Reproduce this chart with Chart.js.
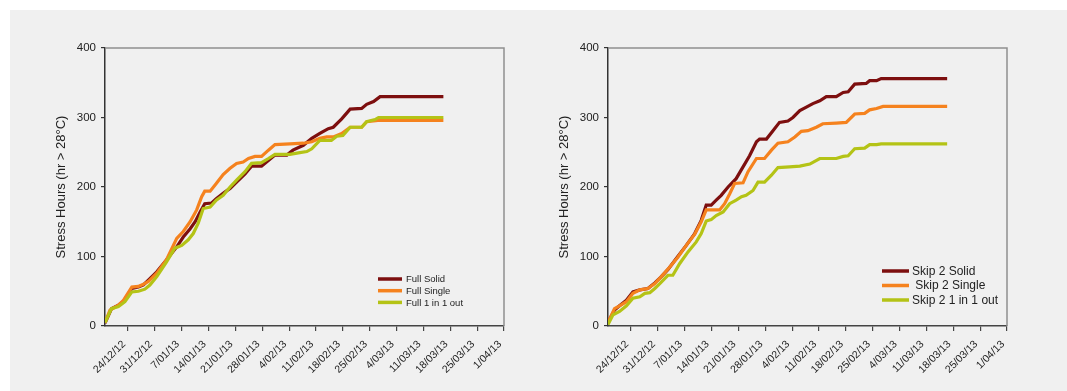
<!DOCTYPE html>
<html>
<head>
<meta charset="utf-8">
<script src="https://cdn.jsdelivr.net/npm/chart.js@4.4.1/dist/chart.umd.min.js"></script>
<style>
  body { margin: 0; background: #ffffff; }
  #panel { position: absolute; left: 10px; top: 10px; width: 1057px; height: 381px; background: #f0f0f0; }
  canvas { position: absolute; top: 10px; }
  #leftChart { left: 10px; }
  #rightChart { left: 513px; }
</style>
</head>
<body>
<div id="panel"></div>
<canvas id="leftChart" width="520" height="381"></canvas>
<canvas id="rightChart" width="520" height="381"></canvas>
<script>
// x values are days after 18/12/12
var tickDays = [6, 13, 20, 27, 34, 41, 48, 55, 62, 69, 76, 83, 90, 97, 104];
var tickLabels = ["24/12/12", "31/12/12", "7/01/13", "14/01/13", "21/01/13", "28/01/13", "4/02/13",
    "11/02/13", "18/02/13", "25/02/13", "4/03/13", "11/03/13", "18/03/13", "25/03/13", "1/04/13"];

var fullSolidDays = [0, 1.7, 3.5, 4.8, 7, 8.7, 10, 11.3, 13.5, 16, 18.7, 20.4, 22.2, 23.5, 24.8, 26, 27.8, 29, 30.8, 32.6,
    34.3, 36.5, 38.2, 40.8, 42.1, 44.3, 47.4, 49, 51.7, 53.9, 56, 58.2, 59.5, 61.7, 63.9, 66.9, 68.2, 70, 71.7, 88.2];
var fullSolid = [4, 25, 30, 35, 54, 56, 59, 66, 78, 95, 114, 128, 140, 150, 164, 176, 177, 183, 191, 198,
    207, 219, 230, 230, 236, 246, 246, 253, 260, 270, 277, 284, 286, 298, 312, 313, 319, 323, 330, 330];

var fullSingleDays = [0, 1.3, 3.5, 4.8, 7, 8.7, 10, 11.3, 13.5, 16, 18.7, 20.4, 22.2, 23.9, 25.2, 26, 27.4, 29, 30.8, 32.6,
    34.3, 36, 37.4, 39.1, 40.8, 42.6, 44.3, 48.2, 51.7, 53.9, 56, 57.8, 59.5, 61.7, 63.9, 66.9, 68.2, 70, 71.7, 88.2];
var fullSingle = [5, 23, 30, 37, 56, 57, 60, 64, 76, 95, 126, 136, 150, 167, 186, 194, 194, 205, 218, 227,
    234, 236, 241, 244, 244, 253, 261, 262, 263, 265, 270, 272, 272, 277, 286, 286, 294, 295, 296, 296];

var fullAltDays = [0, 1.7, 3.5, 5.2, 7, 8.7, 10.4, 11.7, 13.5, 16, 18.2, 20, 21.7, 23, 24.3, 25.6, 27.4, 29, 30.8, 32.6,
    34.3, 36.5, 38.2, 40.8, 42.6, 44.3, 48.2, 50.4, 52.6, 53.9, 56, 59, 60.4, 62, 63.9, 66.9, 68.2, 70.4, 71.3, 88.2];
var fullAlt = [5, 25, 28, 35, 49, 50, 53, 59, 71, 92, 112, 116, 124, 133, 148, 169, 171, 181, 188, 200,
    210, 222, 234, 235, 241, 247, 247, 249, 251, 255, 267, 267, 273, 274, 286, 286, 294, 297, 300, 300];

var skipSolidDays = [0, 1.7, 3, 4.8, 6.5, 8.3, 10.4, 12.2, 13.9, 15.6, 17.8, 20.4, 22.6, 24.3, 25.6, 26.9, 28.2, 29.5, 31.3, 33.4,
    35.2, 36.9, 38.7, 39.5, 41.3, 43, 44.7, 46.9, 48.2, 50, 51.7, 53.4, 55.2, 56.9, 59.5, 61.3, 62.6, 64.3, 67.3, 68.2, 70, 71.2, 88.4];
var skipSolid = [5, 23, 29, 37, 49, 52, 54, 62, 71, 81, 97, 116, 133, 152, 174, 174, 181, 188, 200, 212,
    229, 245, 265, 269, 269, 281, 293, 295, 300, 310, 315, 320, 324, 330, 330, 336, 337, 348, 349, 353, 353, 356, 356];

var skipSingleDays = [0, 1.7, 3, 4.8, 6.5, 8.3, 10.4, 12.2, 13.9, 16.1, 18.2, 20.4, 22.6, 24.3, 25.6, 27.4, 29.1, 30.4, 31.7, 33,
    35.2, 36.5, 38.7, 40.8, 42.6, 44.3, 46.9, 48.7, 50.4, 52.1, 54.3, 56, 59.5, 62.1, 64.3, 66.9, 68.2, 70, 71.7, 88.4];
var skipSingle = [5, 25, 29, 35, 47, 52, 54, 61, 71, 85, 99, 116, 132, 150, 167, 167, 167, 176, 190, 205,
    206, 222, 241, 241, 253, 263, 265, 272, 280, 281, 286, 291, 292, 293, 305, 306, 311, 313, 316, 316];

var skipAltDays = [0, 1.3, 3, 4.8, 6.5, 8.3, 9.6, 10.9, 12.2, 13.5, 15.6, 16.9, 18.7, 20.9, 23, 24.3, 25.6, 26.9, 28.2, 30,
    31.7, 33.4, 34.8, 36, 37.8, 39.1, 40.8, 42.6, 44.3, 47.3, 50, 52.6, 55.2, 56.9, 59.5, 61.3, 62.6, 64.3, 66.9, 68.2, 70, 71.2, 88.4];
var skipAlt = [2, 16, 21, 29, 40, 42, 47, 48, 54, 61, 73, 73, 90, 107, 121, 133, 151, 153, 159, 164,
    176, 181, 186, 188, 195, 207, 207, 217, 228, 229, 230, 233, 241, 241, 241, 244, 245, 255, 256, 261, 261, 262, 262];

var colSolid = "#7d0f0f";
var colSingle = "#f5821e";
var colAlt = "#b4c316";

Chart.defaults.font.family = '"Liberation Sans", Arial, sans-serif';
Chart.defaults.color = "#222";

function pairs(days, vals) {
    return days.map(function (d, i) { return { x: d, y: vals[i] }; });
}

function series(label, days, vals, color, order) {
    return {
        label: label,
        data: pairs(days, vals),
        borderColor: color,
        borderWidth: 3.2,
        pointRadius: 0,
        tension: 0,
        fill: false,
        order: order
    };
}

// gray top/right frame and the legend inside the plot
var frameAndLegend = {
    id: "frameAndLegend",
    afterDraw: function (chart, args, opts) {
        var ctx = chart.ctx, a = chart.chartArea;
        ctx.save();
        ctx.strokeStyle = "#8e8e8e";
        ctx.lineWidth = 1.5;
        ctx.beginPath();
        ctx.moveTo(a.left, a.top);
        ctx.lineTo(a.right, a.top);
        ctx.lineTo(a.right, a.bottom);
        ctx.stroke();

        ctx.font = opts.fontSize + 'px "Liberation Sans", Arial, sans-serif';
        ctx.textBaseline = "middle";
        chart.data.datasets.forEach(function (ds, i) {
            var x = a.right - opts.dx;
            var y = a.bottom - opts.dy + i * opts.gap;
            ctx.strokeStyle = ds.borderColor;
            ctx.lineWidth = 3.5;
            ctx.beginPath();
            ctx.moveTo(x, y);
            ctx.lineTo(x + opts.len, y);
            ctx.stroke();
            ctx.fillStyle = "#222";
            ctx.fillText(ds.label, x + opts.len + opts.textGap, y + 0.5);
        });
        ctx.restore();
    }
};

function makeChart(id, datasets, legendOpts) {
    return new Chart(document.getElementById(id), {
        type: "line",
        data: { datasets: datasets },
        plugins: [frameAndLegend],
        options: {
            responsive: false,
            animation: false,
            layout: { padding: { left: 42, top: 38, right: 26, bottom: 15 } },
            plugins: {
                legend: { display: false },
                tooltip: { enabled: false },
                frameAndLegend: legendOpts
            },
            scales: {
                x: {
                    type: "linear",
                    min: 0,
                    max: 104,
                    afterBuildTicks: function (s) {
                        s.ticks = tickDays.map(function (v) { return { value: v }; });
                    },
                    afterFit: function (s) { s.height = 50; },
                    ticks: {
                        autoSkip: false,
                        minRotation: 45,
                        maxRotation: 45,
                        padding: 7,
                        labelOffset: -4,
                        font: { size: 10.5 },
                        color: "#222",
                        callback: function (v, i) { return tickLabels[i]; }
                    },
                    grid: { drawOnChartArea: false, tickLength: 5, color: "#444", lineWidth: 1.2 },
                    border: { color: "#444", width: 1.5 }
                },
                y: {
                    min: 0,
                    max: 400,
                    afterFit: function (s) { s.width = 53; },
                    ticks: { stepSize: 100, padding: 5, font: { size: 11.5 }, color: "#222" },
                    grid: { drawOnChartArea: false, tickLength: 4, color: "#333", lineWidth: 1.2 },
                    border: { color: "#333", width: 1.5 },
                    title: {
                        display: true,
                        text: "Stress Hours (hr > 28°C)",
                        font: { size: 13 },
                        color: "#222",
                        padding: { top: 2, bottom: 0 }
                    }
                }
            }
        }
    });
}

makeChart("leftChart", [
    series("Full Solid", fullSolidDays, fullSolid, colSolid, 2),
    series("Full Single", fullSingleDays, fullSingle, colSingle, 1),
    series("Full 1 in 1 out", fullAltDays, fullAlt, colAlt, 0)
], { dx: 126, dy: 47, gap: 11.7, len: 24, textGap: 4, fontSize: 9.5 });

makeChart("rightChart", [
    series("Skip 2 Solid", skipSolidDays, skipSolid, colSolid, 2),
    series(" Skip 2 Single", skipSingleDays, skipSingle, colSingle, 1),
    series("Skip 2 1 in 1 out", skipAltDays, skipAlt, colAlt, 0)
], { dx: 125, dy: 55, gap: 14.5, len: 27, textGap: 3, fontSize: 12 });
</script>
</body>
</html>
